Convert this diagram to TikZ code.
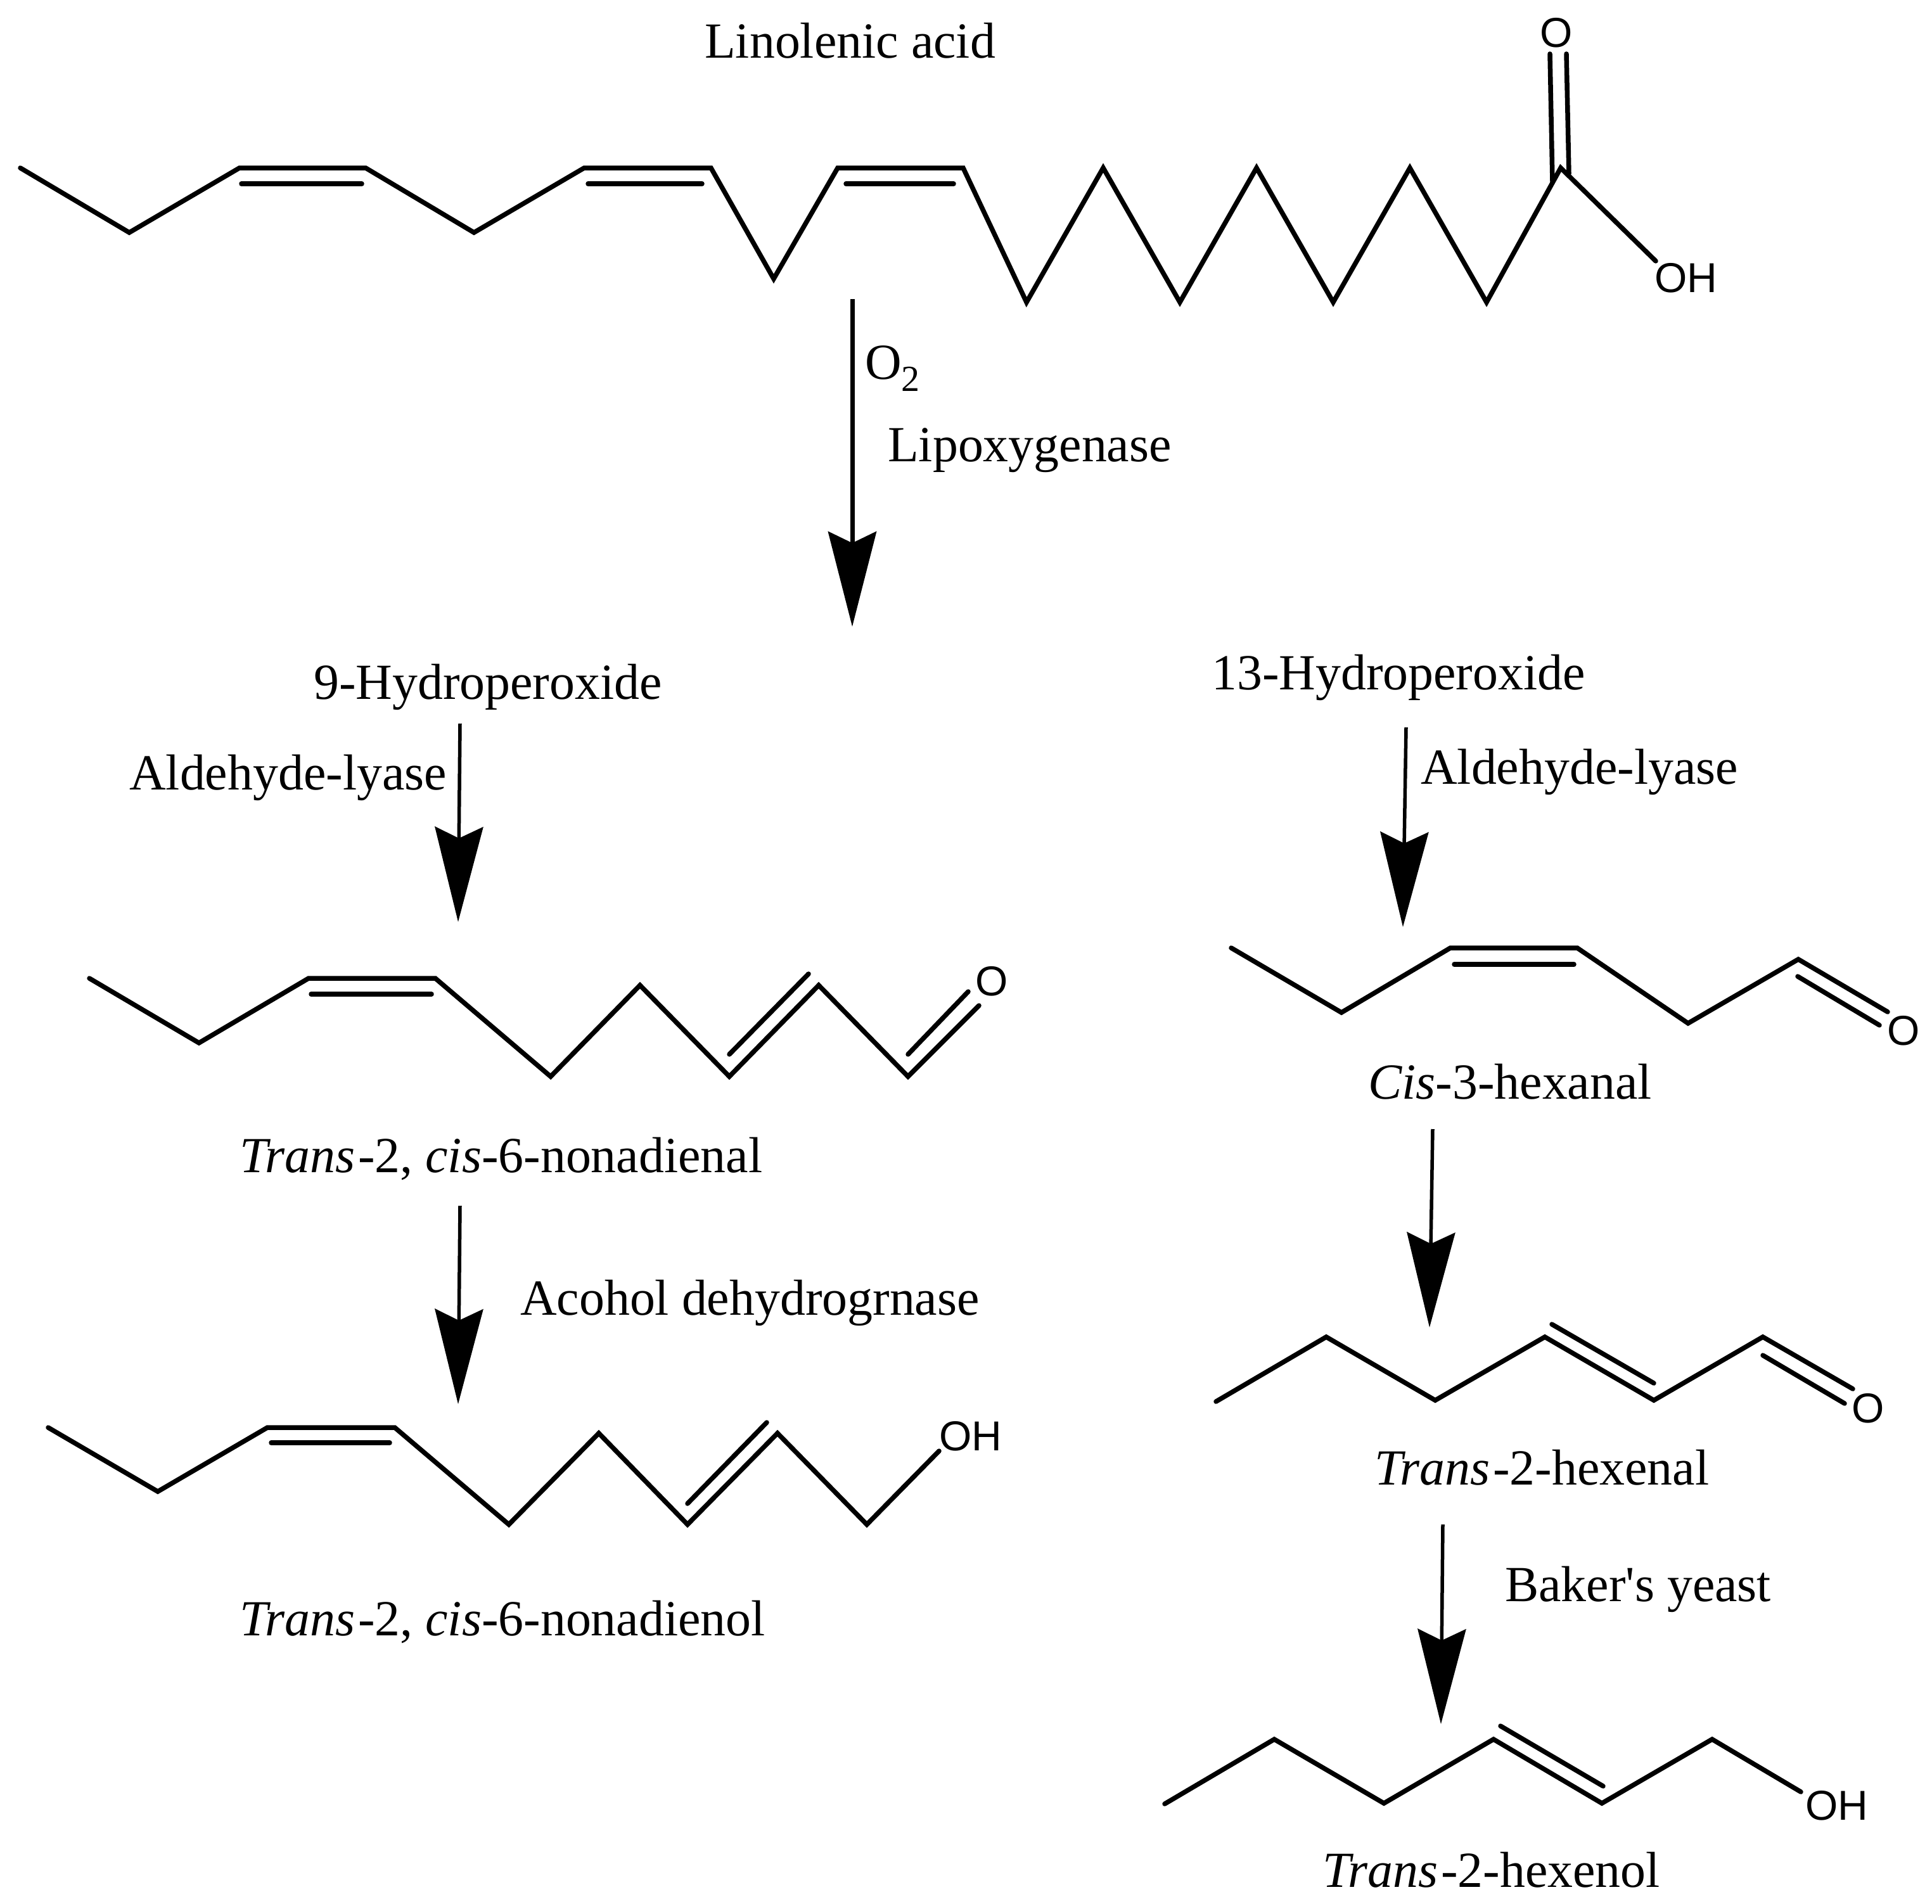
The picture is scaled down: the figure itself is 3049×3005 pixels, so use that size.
\documentclass[tikz,border=0pt]{standalone}
\usepackage{fontspec}
\setmainfont{Liberation Serif}
\newfontfamily\atomfont{Liberation Sans}
\usetikzlibrary{arrows.meta}
\tikzset{
  lbl/.style={anchor=base west,inner sep=0pt,font=\fontsize{79.8}{96}\selectfont},
  atom/.style={anchor=center,inner sep=0pt,font=\atomfont\fontsize{66}{72}\selectfont},
  bond/.style={line width=7.5pt,line cap=round,line join=miter,miter limit=20},
  rxn/.style={line width=5.5pt,-{Stealth[length=150pt,width=76pt,inset=18pt]}},
  rxnmain/.style={rxn,line width=7pt}
}
\begin{document}
\begin{tikzpicture}[x=1pt,y=-1pt]
\useasboundingbox (0,0) rectangle (3049,3005);
\fill[white] (0,0) rectangle (3049,3005);
% text
\node[lbl] (linolenic) at (1112,92) {Linolenic acid};
\node[lbl] (otwo) at (1365,598) {O\raisebox{-19pt}{\fontsize{58}{60}\selectfont 2}};
\node[lbl] (lipox) at (1401,728) {Lipoxygenase};
\node[lbl] (hp9) at (495,1103) {9-Hydroperoxide};
\node[lbl] (hp13) at (1912,1088) {13-Hydroperoxide};
\node[lbl] (lyaseL) at (204,1246) {Aldehyde-lyase};
\node[lbl] (lyaseR) at (2242,1237) {Aldehyde-lyase};
\node[lbl] (nonal) at (378,1850) {\textit{Trans}\kern5pt-2, \textit{cis}-6-nonadienal};
\node[lbl] (adh) at (821,2075) {Acohol dehydrogrnase};
\node[lbl] (nonol) at (378,2581) {\textit{Trans}\kern5pt-2, \textit{cis}-6-nonadienol};
\node[lbl] (hexanal) at (2159,1734) {\textit{Cis}-3-hexanal};
\node[lbl] (hexenal) at (2169,2343) {\textit{Trans}\kern5pt-2-hexenal};
\node[lbl] (yeast) at (2375,2527) {Baker\textquotesingle s yeast};
\node[lbl] (hexenol) at (2087,2978) {\textit{Trans}\kern5pt-2-hexenol};
% atoms
\node[atom] (o1) at (2456,52) {O};
\node[atom] (oh1) at (2661,439) {OH};
\node[atom] (o2) at (1565,1549) {O};
\node[atom] (oh2) at (1532,2267) {OH};
\node[atom] (o3) at (3004,1627) {O};
\node[atom] (o4) at (2948,2223) {O};
\node[atom] (oh4) at (2899,2850) {OH};
% linolenic acid
\draw[bond] (32,265)--(204,367)--(378,265)--(577,265)--(748,367)--(922,265)--(1122,265)--(1221,440)--(1322,265)--(1520,265)--(1620,477)--(1741,265)--(1862,477)--(1983,265)--(2104,477)--(2225,265)--(2346,477)--(2463,265)--(2613,412);
\draw[bond] (381,290)--(571,290);
\draw[bond] (928,290)--(1108,290);
\draw[bond] (1335,290)--(1505,290);
\draw[bond] (2446,85)--(2450,287);
\draw[bond] (2472,85)--(2476,274);
% nonadienal
\draw[bond] (141,1544)--(314,1646)--(487,1544)--(687,1544)--(869,1699)--(1010,1555)--(1151,1699)--(1292,1555)--(1433,1699)--(1545,1587);
\draw[bond] (491,1569)--(681,1569);
\draw[bond] (1151,1664)--(1276,1537);
\draw[bond] (1433,1664)--(1528,1565);
% nonadienol
\draw[bond] (76,2253)--(249,2354)--(422,2253)--(623,2253)--(803,2406)--(945,2262)--(1085,2406)--(1227,2262)--(1368,2406)--(1482,2290);
\draw[bond] (428,2277)--(615,2277);
\draw[bond] (1085,2373)--(1210,2245);
% cis-3-hexanal
\draw[bond] (1943,1496)--(2117,1598)--(2289,1496)--(2489,1496)--(2664,1615)--(2838,1514)--(2979,1597);
\draw[bond] (2295,1522)--(2484,1522);
\draw[bond] (2837,1541)--(2966,1618);
% trans-2-hexenal
\draw[bond] (1919,2212)--(2093,2110)--(2265,2210)--(2438,2110)--(2610,2210)--(2782,2110)--(2924,2192);
\draw[bond] (2449,2090)--(2610,2183);
\draw[bond] (2782,2139)--(2911,2215);
% trans-2-hexenol
\draw[bond] (1838,2847)--(2011,2745)--(2184,2846)--(2357,2745)--(2528,2846)--(2702,2745)--(2842,2828);
\draw[bond] (2368,2724)--(2530,2819);
% arrows
\coordinate (a1s) at (1345,472); \coordinate (a1e) at (1345,989);
\coordinate (a2s) at (726,1142); \coordinate (a2e) at (723,1455);
\coordinate (a3s) at (726,1903); \coordinate (a3e) at (723,2216);
\coordinate (a4s) at (2219,1148); \coordinate (a4e) at (2214,1463);
\coordinate (a5s) at (2261,1782); \coordinate (a5e) at (2256,2095);
\coordinate (a6s) at (2277,2406); \coordinate (a6e) at (2274,2721);
\draw[rxnmain] (a1s)--(a1e);
\draw[rxn] (a2s)--(a2e);
\draw[rxn] (a3s)--(a3e);
\draw[rxn] (a4s)--(a4e);
\draw[rxn] (a5s)--(a5e);
\draw[rxn] (a6s)--(a6e);
\end{tikzpicture}
\end{document}
